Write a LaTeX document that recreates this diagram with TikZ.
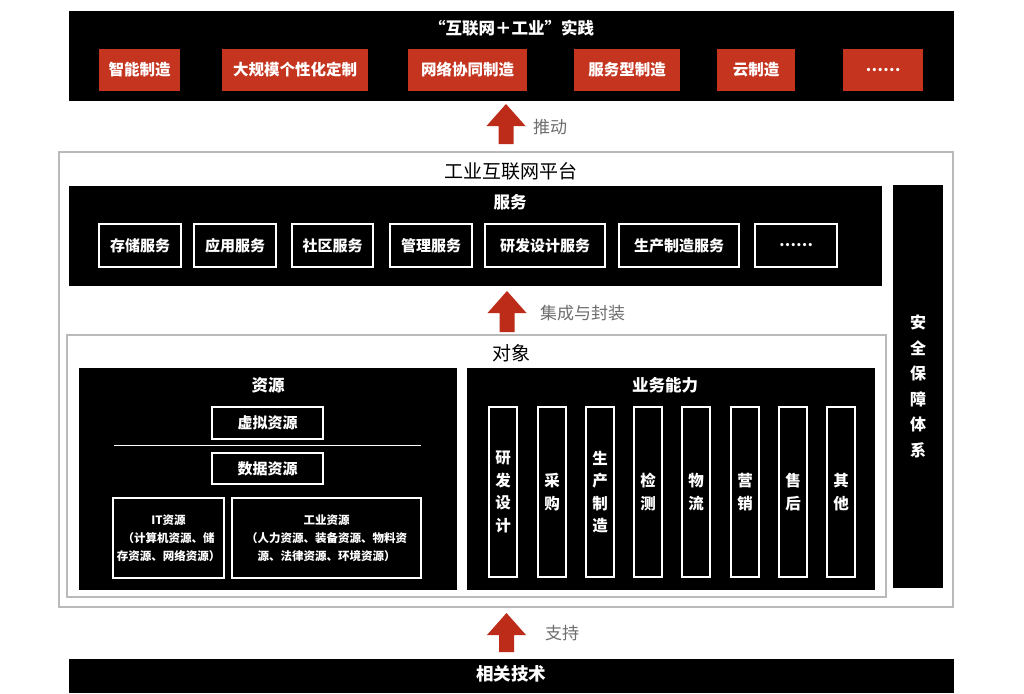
\documentclass[tikz,border=0pt]{standalone}
\usepackage{fontspec}
\setmainfont{Noto Sans CJK SC}
\begin{document}
\begin{tikzpicture}[x=1pt,y=-1pt,
  blk/.style={fill=black,draw=none,inner sep=0pt},
  redbox/.style={fill=boxred,draw=none,inner sep=0pt,minimum height=42pt,text=white,font=\fontsize{15.5}{18}\selectfont\bfseries},
  wbox/.style={draw=white,line width=1.8pt,fill=black,inner sep=0pt,text=white,font=\fontsize{15}{18}\selectfont\bfseries},
  graybox/.style={draw=framegray,line width=1.8pt,fill=none,inner sep=0pt},
  wtitle/.style={text=white,inner sep=0pt,font=\fontsize{16.5}{20}\selectfont\bfseries},
  btitle/.style={text=black,inner sep=0pt,font=\fontsize{19}{22}\selectfont},
  glabel/.style={text=labelgray,inner sep=0pt,anchor=west,font=\fontsize{17}{20}\selectfont},
  colbox/.style={draw=white,line width=1.8pt,fill=black,inner sep=0pt,minimum width=28pt,minimum height=170pt,text=white,align=center,font=\fontsize{15.5}{22.5}\selectfont\bfseries},
  smallbox/.style={draw=white,line width=1.8pt,fill=black,inner sep=0pt,text=white,align=center,font=\fontsize{11.5}{18}\selectfont\bfseries}
]
\definecolor{boxred}{RGB}{196,52,31}
\definecolor{arrowred}{RGB}{188,44,24}
\definecolor{framegray}{RGB}{186,186,186}
\definecolor{labelgray}{RGB}{110,110,110}
\newcommand\bigredarrow[3]{% x, tip y, bottom y
  \fill[arrowred] (#1-19.5,#2+22) -- (#1,#2) -- (#1+19.5,#2+22) -- (#1+7.5,#2+22) -- (#1+7.5,#3) -- (#1-7.5,#3) -- (#1-7.5,#2+22) -- cycle;}
\useasboundingbox (0,0) rectangle (1024,693);
\fill[white] (0,0) rectangle (1024,693);

% top practice bar
\node[blk,minimum width=885pt,minimum height=90pt] (top) at (511.5,56) {};
\node[wtitle] (toptitle) at (511.5,28) {“互联网＋工业”实践};
\node[redbox,minimum width=81pt] (r1) at (139.5,70) {智能制造};
\node[redbox,minimum width=146pt] (r2) at (295,70) {大规模个性化定制};
\node[redbox,minimum width=119pt] (r3) at (467.5,70) {网络协同制造};
\node[redbox,minimum width=106pt] (r4) at (627,70) {服务型制造};
\node[redbox,minimum width=78pt] (r5) at (756,70) {云制造};
\node[redbox,minimum width=80pt] (r6) at (883,70) {……};

\bigredarrow{506}{104}{144}
\node[glabel] (l1) at (533,127) {推动};

% platform
\node[graybox,minimum width=894pt,minimum height=455pt] (platform) at (506,379.5) {};
\node[btitle] (ptitle) at (511,171) {工业互联网平台};

% services
\node[blk,minimum width=813pt,minimum height=100pt] (service) at (475.5,236) {};
\node[wtitle] (stitle) at (510,202) {服务};
\node[wbox,minimum width=82pt,minimum height=43pt] (s1) at (140,245.5) {存储服务};
\node[wbox,minimum width=82pt,minimum height=43pt] (s2) at (235,245.5) {应用服务};
\node[wbox,minimum width=81pt,minimum height=43pt] (s3) at (332.5,245.5) {社区服务};
\node[wbox,minimum width=82pt,minimum height=43pt] (s4) at (431,245.5) {管理服务};
\node[wbox,minimum width=120pt,minimum height=43pt] (s5) at (545,245.5) {研发设计服务};
\node[wbox,minimum width=120pt,minimum height=43pt] (s6) at (679,245.5) {生产制造服务};
\node[wbox,minimum width=82pt,minimum height=43pt] (s7) at (796,245.5) {……};

% security
\node[blk,minimum width=50pt,minimum height=403pt,text=white,align=center,font=\fontsize{16}{25.5}\selectfont\bfseries] (security) at (918,386.5) {安\\全\\保\\障\\体\\系};

\bigredarrow{507}{291}{332}
\node[glabel] (l2) at (540,313) {集成与封装};

% object
\node[graybox,minimum width=819pt,minimum height=262pt] (object) at (476.5,466) {};
\node[btitle] (otitle) at (511,353) {对象};

% resources
\node[blk,minimum width=378pt,minimum height=222pt] (resource) at (268,479) {};
\node[wtitle] (rtitle) at (268,385) {资源};
\node[wbox,minimum width=111pt,minimum height=32pt] (virtual) at (267.5,423) {虚拟资源};
\coordinate (sepL) at (114,445);
\coordinate (sepR) at (421,445);
\draw[white,line width=1pt] (sepL) -- (sepR);
\node[wbox,minimum width=111pt,minimum height=31pt] (data) at (267.5,468.5) {数据资源};
\node[smallbox,minimum width=111pt,minimum height=80pt] (it) at (168.5,538) {IT资源\\（计算机资源、储\\存资源、网络资源）};
\node[smallbox,minimum width=189pt,minimum height=80pt] (ind) at (326.5,538) {工业资源\\（人力资源、装备资源、物料资\\源、法律资源、环境资源）};

% business capabilities
\node[blk,minimum width=408pt,minimum height=222pt] (business) at (671,479) {};
\node[wtitle] (btitle) at (665,385) {业务能力};
\node[colbox] (c1) at (503,492) {研\\发\\设\\计};
\node[colbox] (c2) at (552,492) {采\\购};
\node[colbox] (c3) at (600,492) {生\\产\\制\\造};
\node[colbox] (c4) at (648,492) {检\\测};
\node[colbox] (c5) at (696,492) {物\\流};
\node[colbox] (c6) at (745,492) {营\\销};
\node[colbox] (c7) at (793,492) {售\\后};
\node[colbox] (c8) at (841,492) {其\\他};

\bigredarrow{506.5}{613}{652}
\node[glabel] (l3) at (545,633) {支持};

% bottom
\node[blk,minimum width=885pt,minimum height=34pt] (bottom) at (511.5,676) {};
\node[wtitle,font=\fontsize{17.5}{20}\selectfont\bfseries] (bottomtitle) at (511,674) {相关技术};
\end{tikzpicture}
\end{document}
